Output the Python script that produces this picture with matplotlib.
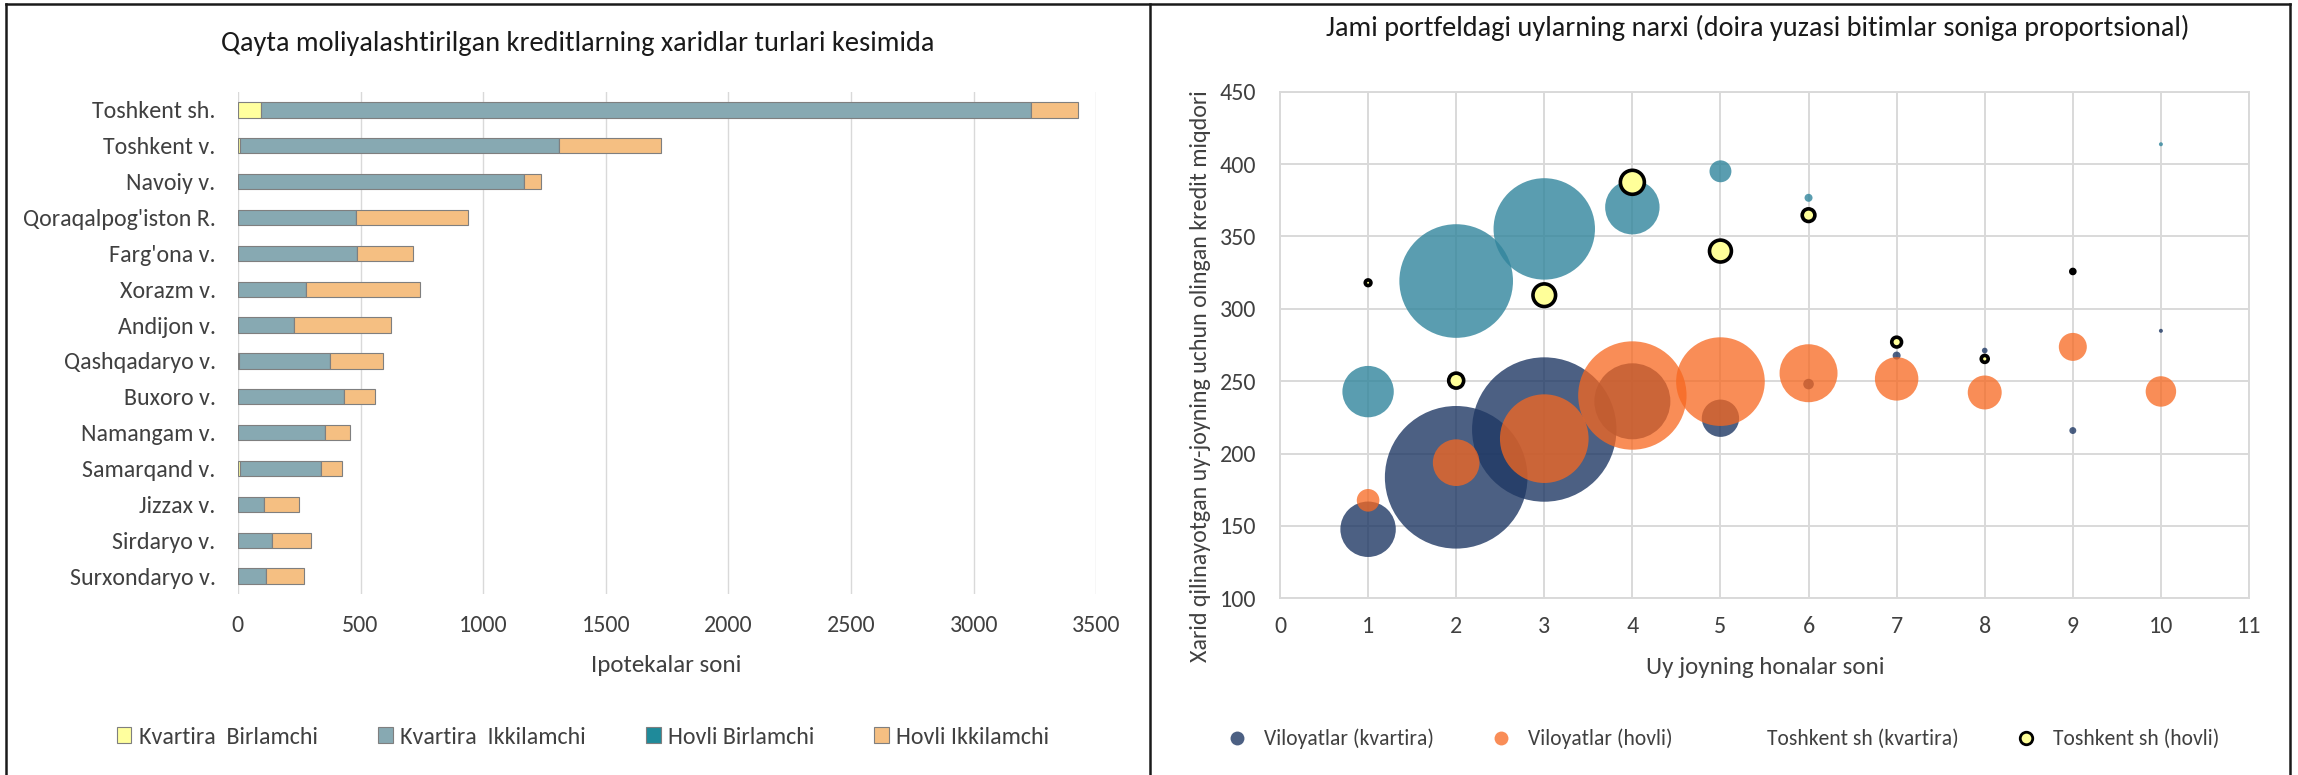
import matplotlib
matplotlib.use("Agg")
import matplotlib.pyplot as plt
from matplotlib import font_manager
from matplotlib.lines import Line2D
from matplotlib.patches import Patch
import numpy as np

# ---------------- data: left chart ----------------
regions = ["Toshkent sh.", "Toshkent v.", "Navoiy v.", "Qoraqalpog'iston R.", "Farg'ona v.",
           "Xorazm v.", "Andijon v.", "Qashqadaryo v.", "Buxoro v.", "Namangam v.",
           "Samarqand v.", "Jizzax v.", "Sirdaryo v.", "Surxondaryo v."]
kvartira_birlamchi = [95, 8, 0, 0, 0, 0, 0, 5, 0, 0, 10, 0, 0, 0]
kvartira_ikkilamchi = [3140, 1302, 1165, 482, 484, 278, 227, 371, 433, 355, 330, 107, 137, 113]
hovli_birlamchi = [0, 0, 0, 0, 0, 0, 0, 0, 0, 0, 0, 0, 0, 0]
hovli_ikkilamchi = [188, 413, 70, 455, 230, 465, 397, 215, 125, 102, 84, 144, 159, 156]
bar_series = ["Kvartira  Birlamchi", "Kvartira  Ikkilamchi", "Hovli Birlamchi", "Hovli Ikkilamchi"]
bar_xticks = [0, 500, 1000, 1500, 2000, 2500, 3000, 3500]

# ---------------- data: right chart (bubbles) ----------------
vil_kv_x = [1, 2, 3, 4, 5, 6, 7, 8, 9, 10]
vil_kv_y = [147.7, 183.6, 216.6, 236.1, 224.4, 248.0, 267.7, 271.2, 215.9, 284.8]
vil_kv_n = [192, 1271, 1303, 361, 87, 7, 4, 2, 3, 1]

vil_ho_x = [1, 2, 3, 4, 5, 6, 7, 8, 9, 10]
vil_ho_y = [167.7, 193.7, 210.3, 240.1, 249.7, 255.5, 251.6, 242.2, 273.7, 242.9]
vil_ho_n = [32, 136, 491, 734, 491, 210, 118, 72, 49, 58]

tsh_kv_x = [1, 2, 3, 4, 5, 6, 10]
tsh_kv_y = [242.8, 319.2, 355.2, 370.2, 395.0, 376.7, 413.7]
tsh_kv_n = [165, 807, 643, 185, 30, 4, 1]

tsh_ho_x = [1, 2, 3, 4, 5, 6, 7, 8, 9]
tsh_ho_y = [318.0, 250.4, 309.4, 387.4, 339.9, 364.7, 277.0, 265.4, 325.8]
tsh_ho_n = [2, 14, 32, 36, 30, 10, 6, 3, 1]

bubble_series = ["Viloyatlar (kvartira)", "Viloyatlar (hovli)", "Toshkent sh (kvartira)", "Toshkent sh (hovli)"]
bx_ticks = list(range(0, 12))
by_ticks = [100, 150, 200, 250, 300, 350, 400, 450]

# ---------------- fonts ----------------
avail = {f.name for f in font_manager.fontManager.ttflist}
font = next(c for c in ["Carlito", "Calibri", "Lato", "Open Sans", "DejaVu Sans"] if c in avail)
plt.rcParams["font.family"] = [font, "DejaVu Sans"]

W, H = 2298, 775
DPI = 100
fig = plt.figure(figsize=(W / DPI, H / DPI), dpi=DPI)
fig.patch.set_facecolor("white")

FS = 17.3
FS_LAB = 18.0
FS_T = 20.4
FS_LEG2 = 15.6
TXT = "#404040"

def fx(px):
    return px / W

def fy(py):
    return 1 - py / H

# ---------------- left chart ----------------
ax1 = fig.add_axes([fx(237.9), fy(594), fx(1096.4 - 237.9), (594 - 92) / H])
ypos = np.arange(len(regions))
cols = ["#FFFF9E", "#87A9B2", "#1F8A9A", "#F5BF82"]
left = np.zeros(len(regions))
for vals, c, name in zip([kvartira_birlamchi, kvartira_ikkilamchi, hovli_birlamchi, hovli_ikkilamchi],
                         cols, bar_series):
    v = np.array(vals, dtype=float)
    ax1.barh(ypos, v, left=left, height=0.43, color=c, edgecolor="#7F7F7F", linewidth=0.8,
             label=name, zorder=3)
    left += v
ax1.set_xlim(0, 3500)
ax1.set_ylim(len(regions) - 0.5, -0.5)
ax1.set_xticks(bar_xticks)
ax1.set_yticks(ypos)
ax1.set_yticklabels(regions)
ax1.grid(axis="x", color="#D9D9D9", linewidth=1.0, zorder=0)
ax1.set_axisbelow(True)
for s in ax1.spines.values():
    s.set_visible(False)
ax1.tick_params(axis="both", length=0, labelsize=FS, labelcolor=TXT)
ax1.tick_params(axis="x", pad=15)
ax1.tick_params(axis="y", pad=16)
fig.text(fx(666.6), fy(665), "Ipotekalar soni", ha="center", va="center", fontsize=FS_LAB, color=TXT)
fig.text(fx(578), fy(43), "Qayta moliyalashtirilgan kreditlarning xaridlar turlari kesimida",
         ha="center", va="center", fontsize=FS_T, color="#1a1a1a")

handles1 = [Patch(facecolor=c, edgecolor="#7F7F7F", linewidth=0.8) for c in cols]
fig.legend(handles1, bar_series, loc="center", bbox_to_anchor=(fx(583), fy(737)), ncol=4,
           frameon=False, fontsize=FS, handlelength=0.62, handleheight=0.62, handletextpad=0.3,
           columnspacing=2.5, labelcolor=TXT)

# ---------------- right chart ----------------
ax2 = fig.add_axes([fx(1280), fy(598.3), fx(2249 - 1280), (598.3 - 91.7) / H])
K = (4 * 72 / DPI) ** 2  # marker area (pt^2) per deal
ax2.scatter(vil_kv_x, vil_kv_y, s=np.array(vil_kv_n) * K, color="#1F3864", alpha=0.8,
            linewidths=0, zorder=3)
ax2.scatter(vil_ho_x, vil_ho_y, s=np.array(vil_ho_n) * K, color="#F7671F", alpha=0.75,
            linewidths=0, zorder=4)
ax2.scatter(tsh_kv_x, tsh_kv_y, s=np.array(tsh_kv_n) * K, color="#31859C", alpha=0.8,
            linewidths=0, zorder=5)
ax2.scatter(tsh_ho_x, tsh_ho_y, s=np.array(tsh_ho_n) * K, color="#FFFF99", edgecolors="black",
            linewidths=2.6, zorder=6)
ax2.set_xlim(0, 11)
ax2.set_ylim(100, 450)
ax2.set_xticks(bx_ticks)
ax2.set_yticks(by_ticks)
ax2.grid(True, color="#D9D9D9", linewidth=1.4, zorder=0)
ax2.set_axisbelow(True)
for s in ax2.spines.values():
    s.set_color("#D9D9D9")
    s.set_linewidth(1.4)
ax2.tick_params(axis="both", length=0, labelsize=FS, labelcolor=TXT)
ax2.tick_params(axis="x", pad=13)
ax2.tick_params(axis="y", pad=17)
fig.text(fx(1765), fy(668), "Uy joyning honalar soni", ha="center", va="center", fontsize=FS_LAB, color=TXT)
fig.text(fx(1200), fy(376), "Xarid qilinayotgan uy-joyning uchun olingan kredit miqdori",
         ha="center", va="center", rotation=90, fontsize=FS, color=TXT)
fig.text(fx(1758), fy(28), "Jami portfeldagi uylarning narxi (doira yuzasi bitimlar soniga proportsional)",
         ha="center", va="center", fontsize=FS_T, color="#1a1a1a")

handles2 = [
    Line2D([], [], linestyle="none", marker="o", markersize=10, markerfacecolor="#1F3864",
           markeredgewidth=0, alpha=0.8),
    Line2D([], [], linestyle="none", marker="o", markersize=10, markerfacecolor="#F7671F",
           markeredgewidth=0, alpha=0.75),
    Line2D([], [], linestyle="none", marker="o", markersize=10, markerfacecolor="none",
           markeredgecolor="none"),
    Line2D([], [], linestyle="none", marker="o", markersize=9, markerfacecolor="#FFFF99",
           markeredgecolor="black", markeredgewidth=2.0),
]
fig.legend(handles2, bubble_series, loc="center", bbox_to_anchor=(fx(1723), fy(739)), ncol=4,
           frameon=False, fontsize=FS_LEG2, handlelength=1.0, handletextpad=0.75,
           columnspacing=2.6, labelcolor=TXT)

# ---------------- borders ----------------
bc = "#1a1a1a"
for xs, ys in [((6, 2290), (3.7, 3.7)), ((6, 6), (3.7, 775)), ((1150, 1150), (3.7, 775)),
               ((2290, 2290), (3.7, 775))]:
    fig.add_artist(Line2D([fx(xs[0]), fx(xs[1])], [fy(ys[0]), fy(ys[1])], color=bc, linewidth=1.8,
                          transform=fig.transFigure))

fig.savefig("out.png", dpi=DPI, facecolor="white")
